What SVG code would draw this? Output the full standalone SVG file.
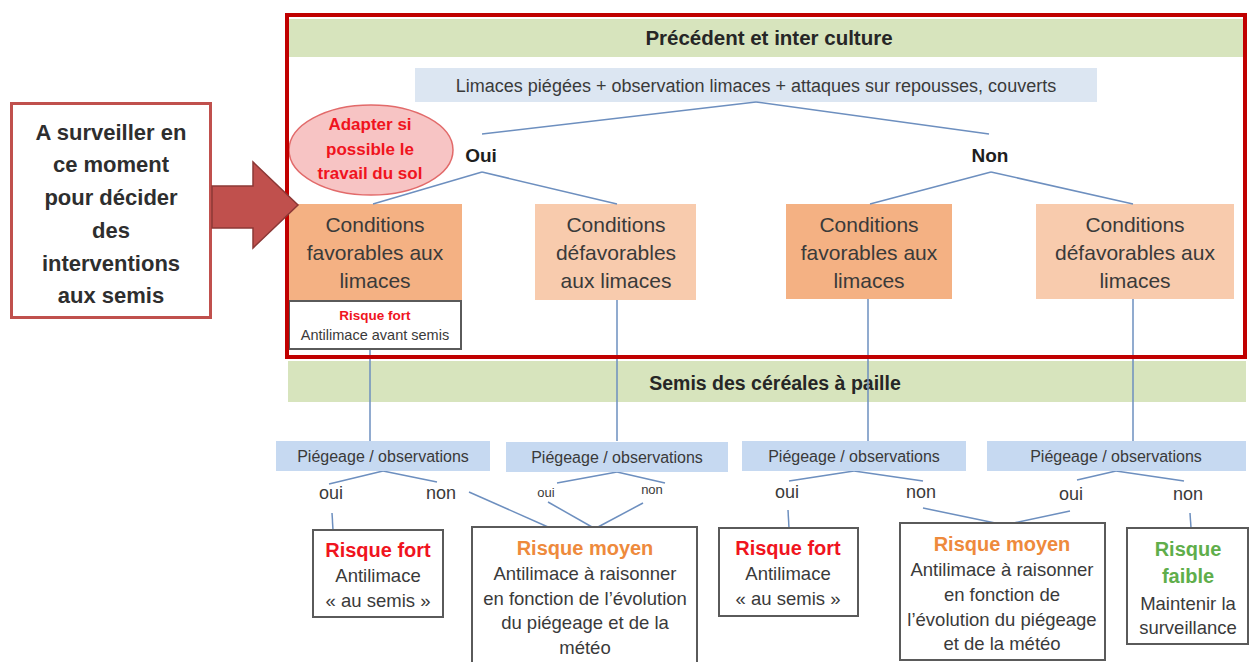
<svg xmlns="http://www.w3.org/2000/svg" width="1250" height="662" viewBox="0 0 1250 662">
<style>
text{font-family:"Liberation Sans",Arial,sans-serif;fill:#3a3a3a;text-anchor:middle}
.b{font-weight:bold}
.note{font-size:22px;font-weight:bold;fill:#2e2e2e}
.band{fill:#d7e4bd}
.title{font-size:20px;font-weight:bold;fill:#262626}
.cond{font-size:21px}
.dark{fill:#f4b183}
.light{fill:#f8cbad}
.pie{fill:#c6d9f1}
.pt{font-size:16px}
.yn{font-size:18px}
.yns{font-size:13px}
.box{fill:#fff;stroke:#5a5a5a;stroke-width:2}
.rt{font-size:20px;font-weight:bold}
.body{font-size:18.5px}
.red{fill:#f0141e}
.orange{fill:#ee8a3c}
.green{fill:#5fae4b}
.conn line{stroke:#6d8fbf;stroke-width:1.5;fill:none}
</style>

<g id="note">
<rect x="11.5" y="103.5" width="199" height="214" fill="#fff" stroke="#c0504d" stroke-width="3"/>
<text class="note" x="111" y="140">A surveiller en</text>
<text class="note" x="111" y="172">ce moment</text>
<text class="note" x="111" y="205">pour décider</text>
<text class="note" x="111" y="238">des</text>
<text class="note" x="111" y="271">interventions</text>
<text class="note" x="111" y="303">aux semis</text>
</g>

<g id="header-band"><rect class="band" x="289" y="19" width="954" height="38"/>
<text class="title" x="769" y="45" style="font-size:20.5px">Précédent et inter culture</text></g>

<g id="semis-band"><rect class="band" x="288" y="361" width="958" height="41"/>
<text class="title" x="775" y="390" style="font-size:19.5px">Semis des céréales à paille</text></g>

<g id="observation">
<rect x="415" y="68" width="682" height="34" fill="#dce6f2"/>
<text x="756" y="92" style="font-size:18px">Limaces piégées + observation limaces + attaques sur repousses, couverts</text>
</g>

<g id="adapter">
<ellipse cx="371" cy="150" rx="82" ry="45" fill="#f7c4c4" stroke="#e26a6a" stroke-width="1.5"/>
<text class="b red" x="370" y="130" style="font-size:17px">Adapter si</text>
<text class="b red" x="370" y="155" style="font-size:17px">possible le</text>
<text class="b red" x="370" y="179" style="font-size:17px">travail du sol</text>
</g>

<g id="oui"><text class="b" x="481" y="162" style="font-size:19px;fill:#1e1e1e">Oui</text></g>
<g id="non"><text class="b" x="990" y="162" style="font-size:19px;fill:#1e1e1e">Non</text></g>

<g id="cond1">
<rect class="dark" x="289" y="204" width="173" height="96"/>
<text class="cond" x="375" y="232">Conditions</text>
<text class="cond" x="375" y="260">favorables aux</text>
<text class="cond" x="375" y="288">limaces</text>
</g>
<g id="cond2">
<rect class="light" x="535" y="204" width="161" height="96"/>
<text class="cond" x="616" y="232">Conditions</text>
<text class="cond" x="616" y="260">défavorables</text>
<text class="cond" x="616" y="288">aux limaces</text>
</g>
<g id="cond3">
<rect class="dark" x="786" y="204" width="166" height="95"/>
<text class="cond" x="869" y="232">Conditions</text>
<text class="cond" x="869" y="260">favorables aux</text>
<text class="cond" x="869" y="288">limaces</text>
</g>
<g id="cond4">
<rect class="light" x="1036" y="204" width="198" height="95"/>
<text class="cond" x="1135" y="232">Conditions</text>
<text class="cond" x="1135" y="260">défavorables aux</text>
<text class="cond" x="1135" y="288">limaces</text>
</g>

<g id="risque-avant">
<rect class="box" x="289" y="301" width="172" height="48"/>
<text class="b red" x="375" y="320" style="font-size:13.5px">Risque fort</text>
<text x="375" y="340" style="font-size:14.5px">Antilimace avant semis</text>
</g>

<g class="conn" id="connectors">
<line x1="756" y1="102" x2="482" y2="134"/>
<line x1="756" y1="102" x2="989" y2="134"/>
<line x1="482" y1="172" x2="373" y2="204"/>
<line x1="482" y1="172" x2="617" y2="204"/>
<line x1="991" y1="172" x2="870" y2="204"/>
<line x1="991" y1="172" x2="1133" y2="204"/>
<line x1="370" y1="350" x2="370" y2="441"/>
<line x1="617" y1="300" x2="617" y2="441"/>
<line x1="868" y1="299" x2="868" y2="441"/>
<line x1="1133" y1="299" x2="1133" y2="441"/>
<line x1="383" y1="471" x2="329" y2="484"/>
<line x1="383" y1="471" x2="437" y2="482"/>
<line x1="332" y1="513" x2="333" y2="530"/>
<line x1="469" y1="492" x2="548" y2="527"/>
<line x1="617" y1="472" x2="557" y2="483"/>
<line x1="617" y1="472" x2="665" y2="483"/>
<line x1="548" y1="502" x2="592" y2="527"/>
<line x1="643" y1="503" x2="598" y2="527"/>
<line x1="854" y1="471" x2="789" y2="481"/>
<line x1="854" y1="471" x2="923" y2="481"/>
<line x1="788" y1="510" x2="789" y2="528"/>
<line x1="923" y1="508" x2="1000" y2="524"/>
<line x1="1070" y1="511" x2="1009" y2="524"/>
<line x1="1116" y1="471" x2="1077" y2="480"/>
<line x1="1116" y1="471" x2="1184" y2="481"/>
<line x1="1190" y1="513" x2="1191" y2="528"/>
</g>

<g id="frame"><rect x="287" y="15" width="958" height="342" fill="none" stroke="#c00000" stroke-width="4"/></g>

<g id="arrow"><polygon points="212,186 253,186 253,162 298,205 253,248 253,228 212,228" fill="#c0504d" stroke="#8c3836" stroke-width="1.5"/></g>

<g id="piege1"><rect class="pie" x="276" y="441" width="214" height="30"/><text class="pt" x="383" y="462">Piégeage / observations</text></g>
<g id="piege2"><rect class="pie" x="506" y="442" width="222" height="30"/><text class="pt" x="617" y="463">Piégeage / observations</text></g>
<g id="piege3"><rect class="pie" x="742" y="441" width="224" height="30"/><text class="pt" x="854" y="462">Piégeage / observations</text></g>
<g id="piege4"><rect class="pie" x="987" y="441" width="259" height="30"/><text class="pt" x="1116" y="462">Piégeage / observations</text></g>

<g id="labels">
<text class="yn" x="331" y="499">oui</text>
<text class="yn" x="441" y="499">non</text>
<text class="yns" x="546" y="497">oui</text>
<text class="yns" x="652" y="494">non</text>
<text class="yn" x="787" y="498">oui</text>
<text class="yn" x="921" y="498">non</text>
<text class="yn" x="1071" y="500">oui</text>
<text class="yn" x="1188" y="500">non</text>
</g>

<g id="fort1">
<rect class="box" x="313" y="530" width="130" height="87"/>
<text class="rt red" x="378" y="557">Risque fort</text>
<text class="body" x="378" y="582">Antilimace</text>
<text class="body" x="378" y="607">« au semis »</text>
</g>
<g id="moyen1">
<rect class="box" x="472" y="527" width="225" height="145"/>
<text class="rt orange" x="585" y="555">Risque moyen</text>
<text class="body" x="585" y="580">Antilimace à raisonner</text>
<text class="body" x="585" y="605">en fonction de l’évolution</text>
<text class="body" x="585" y="629">du piégeage et de la</text>
<text class="body" x="585" y="654">météo</text>
</g>
<g id="fort2">
<rect class="box" x="719" y="528" width="139" height="88"/>
<text class="rt red" x="788" y="555">Risque fort</text>
<text class="body" x="788" y="580">Antilimace</text>
<text class="body" x="788" y="605">« au semis »</text>
</g>
<g id="moyen2">
<rect class="box" x="900" y="523" width="205" height="137"/>
<text class="rt orange" x="1002" y="551">Risque moyen</text>
<text class="body" x="1002" y="576">Antilimace à raisonner</text>
<text class="body" x="1002" y="601">en fonction de</text>
<text class="body" x="1002" y="626">l’évolution du piégeage</text>
<text class="body" x="1002" y="650">et de la météo</text>
</g>
<g id="faible">
<rect class="box" x="1127" y="528" width="121" height="116"/>
<text class="rt green" x="1188" y="556">Risque</text>
<text class="rt green" x="1188" y="583">faible</text>
<text class="body" x="1188" y="610">Maintenir la</text>
<text class="body" x="1188" y="634">surveillance</text>
</g>
</svg>
